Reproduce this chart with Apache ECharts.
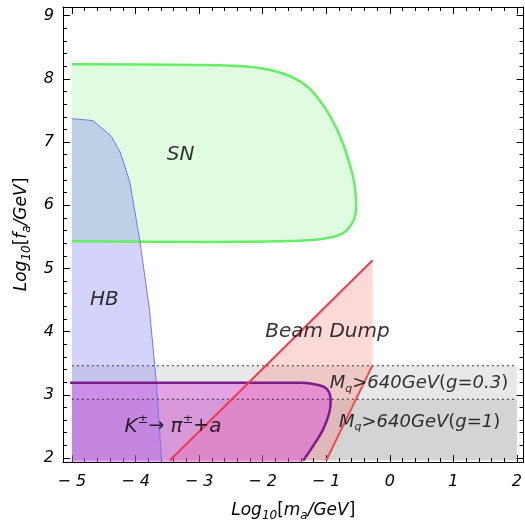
<!DOCTYPE html>
<html>
<head>
<meta charset="UTF-8">
<title>Axion bounds</title>
<style>
  html, body { margin: 0; padding: 0; background: #fff; }
  #chart { width: 525px; height: 527px; }
</style>
</head>
<body>
<div id="chart"></div>
<script src="https://cdn.jsdelivr.net/npm/echarts@6/dist/echarts.min.js"></script>
<script>
// axis ranges and ticks
var xRange = [-5.14, 2.105];
var yRange = [1.937, 9.137];
var xTicks = [-5, -4, -3, -2, -1, 0, 1, 2];
var yTicks = [2, 3, 4, 5, 6, 7, 8, 9];
var xMinor = [], yMinor = [];
for (var i = 0; i <= 35; i++) {
  xMinor.push(+(-5 + i * 0.2).toFixed(1));
  yMinor.push(+(2 + i * 0.2).toFixed(1));
}

// region boundaries
var snEdge = [[-5, 8.23], [-3, 8.22], [-2.2, 8.19], [-1.67, 8.08], [-1.3, 7.88], [-1.04, 7.57],
  [-0.83, 7.2], [-0.67, 6.78], [-0.56, 6.36], [-0.53, 5.99], [-0.56, 5.78], [-0.72, 5.57],
  [-0.98, 5.48], [-1.41, 5.44], [-3, 5.42], [-5, 5.43]];
var hbEdge = [[-5, 7.37], [-4.67, 7.34], [-4.38, 7.09], [-4.24, 6.84], [-4.09, 6.37],
  [-3.93, 5.43], [-3.78, 4.35], [-3.67, 3.17], [-3.59, 1.96]];
var kEdge = [[-5.03, 3.19], [-1.4, 3.19], [-1.2, 3.17], [-1.04, 3.13], [-0.96, 3.05], [-0.93, 2.93],
  [-0.95, 2.72], [-1.05, 2.45], [-1.2, 2.2], [-1.36, 1.96]];
var beamUpper = [[-3.46, 1.96], [-0.27, 5.13]];
var beamLower = [[-1.0, 1.96], [-0.27, 3.47]];
var bandX = [-5, 2];
var bandG03 = [1.96, 3.46];
var bandG1 = [1.96, 2.93];

var notes = [
  { text: '{i|SN}', x: -3.29, y: 6.8 },
  { text: '{i|HB}', x: -4.49, y: 4.51 },
  { text: '{i|Beam Dump}', x: -0.98, y: 3.99 },
  { text: '{i|K}{p|±}{a|→ }{i|π}{p|±}{a|+}{i|a}', x: -3.41, y: 2.5 },
  { text: '{m|M}{q|q}{m|>640GeV}{u|(}{m|g=0.3}{u|)}', x: 0.46, y: 3.18 },
  { text: '{m|M}{q|q}{m|>640GeV}{u|(}{m|g=1}{u|)}', x: 0.47, y: 2.57 }
];

var FONT = 'DejaVu Sans';

function rect(xs, ys) {
  return [[xs[0], ys[0]], [xs[1], ys[0]], [xs[1], ys[1]], [xs[0], ys[1]]];
}

// filled outline; the path is closed straight from last point back to first
function areaSeries(points, color, smooth) {
  return {
    type: 'custom',
    silent: true,
    clip: true,
    data: [[0, 5]],
    renderItem: function (params, api) {
      return {
        type: 'polyline',
        shape: { points: points.map(function (p) { return api.coord(p); }), smooth: smooth || 0 },
        style: { fill: color, stroke: null }
      };
    }
  };
}

function edgeSeries(points, color, width, dash, smooth) {
  return {
    type: 'custom',
    silent: true,
    clip: true,
    data: [[0, 5]],
    renderItem: function (params, api) {
      return {
        type: 'polyline',
        shape: { points: points.map(function (p) { return api.coord(p); }), smooth: smooth || 0 },
        style: { fill: null, stroke: color, lineWidth: width, lineDash: dash || null }
      };
    }
  };
}

function fmt(v) {
  return v < 0 ? '\u2212 ' + (-v) : String(v);
}

var nameRich = {
  i: { fontStyle: 'italic', fontSize: 17, fontFamily: FONT, color: '#000', lineHeight: 22 },
  s: { fontStyle: 'italic', fontSize: 12, fontFamily: FONT, color: '#000', verticalAlign: 'bottom', lineHeight: 12 },
  b: { fontSize: 17, fontFamily: FONT, color: '#000', lineHeight: 22 }
};

function axis(pos, range, ticks, minor, main) {
  return {
    type: 'value',
    position: pos,
    min: range[0],
    max: range[1],
    axisLine: { show: main, onZero: false, lineStyle: { color: '#000', width: 1 } },
    axisTick: { show: true, inside: true, length: main ? 7 : 4, customValues: main ? ticks : minor,
      lineStyle: { color: '#000', width: 1 } },
    axisLabel: { show: false },
    splitLine: { show: false }
  };
}

var xBottom = axis('bottom', xRange, xTicks, xMinor, true);
xBottom.axisLabel = { show: true, customValues: xTicks, formatter: fmt, fontStyle: 'italic',
  fontSize: 16, fontFamily: FONT, color: '#000', margin: 12 };
xBottom.name = '{i|Log}{s|10}{b|[}{i|m}{s|a}{i|/GeV}{b|]}';
xBottom.nameLocation = 'middle';
xBottom.nameGap = 38;
xBottom.nameTextStyle = { rich: nameRich };

var yLeft = axis('left', yRange, yTicks, yMinor, true);
yLeft.axisLabel = { show: true, customValues: yTicks, formatter: fmt, fontStyle: 'italic',
  fontSize: 16, fontFamily: FONT, color: '#000', margin: 9 };
yLeft.name = '{i|Log}{s|10}{b|[}{i|f}{s|a}{i|/GeV}{b|]}';
yLeft.nameLocation = 'middle';
yLeft.nameGap = 28;
yLeft.nameTextStyle = { rich: nameRich };

var noteRich = {
  i: { fontStyle: 'italic', fontSize: 20, fontFamily: FONT, color: '#000', lineHeight: 26 },
  p: { fontSize: 13, fontFamily: FONT, color: '#000', verticalAlign: 'top', lineHeight: 13 },
  a: { fontSize: 19, fontFamily: FONT, color: '#000', lineHeight: 26 },
  m: { fontStyle: 'italic', fontSize: 18, fontFamily: FONT, color: '#000', lineHeight: 22 },
  q: { fontStyle: 'italic', fontSize: 11, fontFamily: FONT, color: '#000', verticalAlign: 'bottom', lineHeight: 11 },
  u: { fontSize: 18, fontFamily: FONT, color: '#000', lineHeight: 22 }
};

var chart = echarts.init(document.getElementById('chart'));
chart.setOption({
  animation: false,
  grid: { left: 63, right: 1, top: 7, bottom: 63 },
  xAxis: [
    xBottom,
    axis('bottom', xRange, xTicks, xMinor, false),
    axis('top', xRange, xTicks, xMinor, true),
    axis('top', xRange, xTicks, xMinor, false)
  ],
  yAxis: [
    yLeft,
    axis('left', yRange, yTicks, yMinor, false),
    axis('right', yRange, yTicks, yMinor, true),
    axis('right', yRange, yTicks, yMinor, false)
  ],
  series: [
    areaSeries(rect(bandX, bandG03), 'rgba(0,0,0,0.09)'),
    areaSeries(rect(bandX, bandG1), 'rgba(0,0,0,0.09)'),
    areaSeries(snEdge, 'rgba(100,240,100,0.2)', 0.3),
    areaSeries(hbEdge.concat([[-5, 1.96]]), 'rgba(110,110,245,0.3)'),
    areaSeries([beamUpper[0], beamUpper[1], beamLower[1], beamLower[0]], 'rgba(255,100,100,0.25)'),
    areaSeries([[-5, 3.19]].concat(kEdge.slice(1), [[-1.43, 1.8], [-5, 1.8], [-5, 1.96]]),
      'rgba(220,70,225,0.42)', 0.3),
    edgeSeries(snEdge, '#66ee66', 2.5, null, 0.3),
    edgeSeries(hbEdge, '#7474f2', 1),
    edgeSeries([[bandX[0], bandG03[1]], [bandX[1], bandG03[1]]], '#333', 1, [2, 3]),
    edgeSeries([[bandX[0], bandG1[1]], [bandX[1], bandG1[1]]], '#333', 1, [2, 3]),
    edgeSeries(kEdge, '#7d1d8c', 2.5, null, 0.3),
    edgeSeries(beamUpper, '#ee3b4b', 2),
    edgeSeries(beamLower, '#ee4b50', 2),
    {
      type: 'scatter',
      silent: true,
      symbolSize: 0,
      data: notes.map(function (n) { return { value: [n.x, n.y], name: n.text }; }),
      label: {
        show: true,
        position: 'inside',
        color: '#000',
        textBorderWidth: 0,
        formatter: function (p) { return p.name; },
        rich: noteRich
      }
    }
  ]
});
</script>
</body>
</html>
